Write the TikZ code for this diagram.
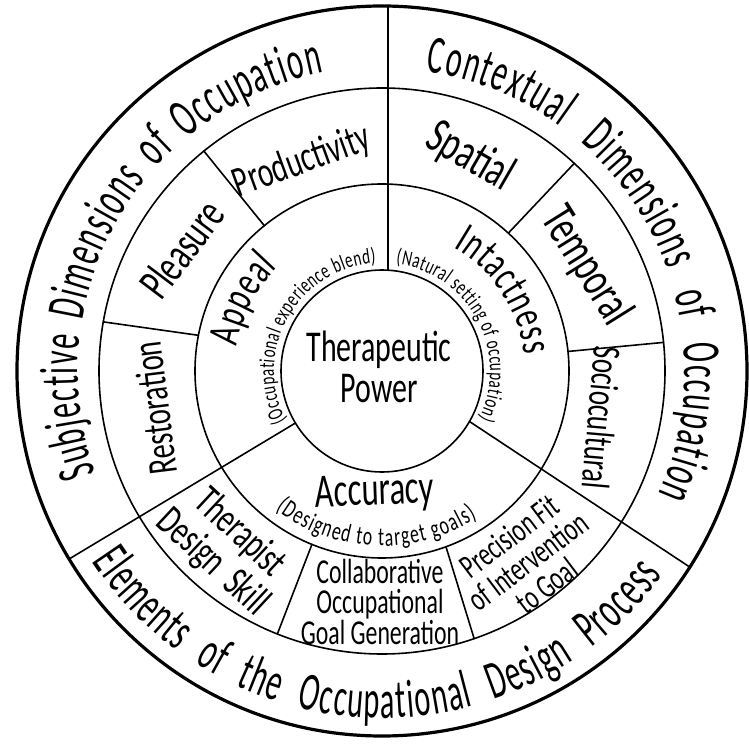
\documentclass[tikz,border=0pt]{standalone}
\usepackage{fontspec}
\setmainfont{Carlito}
\newfontfamily\handO{Carlito}[FakeStretch=0.56]
\newfontfamily\hand{Carlito}[FakeStretch=0.68]
\usetikzlibrary{decorations.text}
\tikzset{
  ring/.style={line width=1.6pt, line cap=round},
  rim/.style={line width=3.2pt},
  lbl/.style={inner sep=0pt, align=center},
}
\begin{document}
\begin{tikzpicture}[x=1pt,y=1pt]
\useasboundingbox (-382,-378) rectangle (367,371);
\fill[white] (-382,-378) rectangle (367,371);
% circles
\draw[ring] (0,0) circle[radius=101pt];
\draw[ring] (0,0) circle[radius=187pt];
\draw[ring] (0,0) circle[radius=283pt];
\draw[rim] (0,0) circle[radius=365pt];
% main dividers
\draw[ring] (6,100.8) -- (6,365);
\draw[ring] (211:101pt) -- (211:365pt);
\draw[ring] (-30:101pt) -- (-32.5:365pt);
% ring 3 dividers
\draw[ring] (129:187pt) -- (129:283pt);
\draw[ring] (169:187pt) -- (170:283pt);
\draw[ring] (248:187pt) -- (248.3:283pt);
\draw[ring] (290:187pt) -- (289:283pt);
\draw[ring] (6:187pt) -- (5.8:283pt);
\draw[ring] (47.5:187pt) -- (47.2:283pt);
% outer ring texts
\path[decorate, decoration={text along path, text align={fit to path stretching spaces},
  text={|\handO\fontsize{54}{54}\selectfont\kern1.5pt|Subjective Dimensions of Occupation}}]
  (200:304pt) arc[start angle=200, end angle=101, radius=304pt];
\path[decorate, decoration={text along path, text align={fit to path stretching spaces},
  text={|\handO\fontsize{54}{54}\selectfont\kern1.5pt|Contextual Dimensions of Occupation}}]
  (82:303pt) arc[start angle=82, end angle=-24, radius=303pt];
\path[decorate, decoration={text along path, text align={fit to path stretching spaces},
  text={|\handO\fontsize{54}{54}\selectfont\kern1.5pt|Elements of the Occupational Design Process}}]
  (213:347pt) arc[start angle=213, end angle=324, radius=347pt];
% ring 3 labels
\node[lbl, font={\hand\fontsize{43}{43}\selectfont}, rotate=20] (prod) at (-80,209) {Productivity};
\node[lbl, font={\hand\fontsize{46}{46}\selectfont}, rotate=53] (plea) at (-200,122) {Pleasure};
\node[lbl, font={\hand\fontsize{42}{42}\selectfont}, rotate=97] (rest) at (-227,-37) {Restoration};
\node[lbl, font={\hand\fontsize{42}{40}\selectfont}, rotate=-43] (ther) at (-156,-177) {Therapist\\Design\ \ Skill};
\node[lbl, font={\hand\fontsize{35}{29.5}\selectfont}] (coll) at (-2,-231) {Collaborative\\Occupational\\Goal Generation};
\node[lbl, font={\hand\fontsize{34}{31}\selectfont}, rotate=37] (prec) at (146,-190) {Precision Fit\\of Intervention\\to Goal};
\node[lbl, font={\hand\fontsize{40}{40}\selectfont}, rotate=-95] (soci) at (220,-47) {Sociocultural};
\node[lbl, font={\hand\fontsize{50}{50}\selectfont}, rotate=-58] (temp) at (204,105) {Temporal};
\node[lbl, font={\hand\fontsize{50}{50}\selectfont}, rotate=-30] (spat) at (88,214) {Spatial};
% ring 2 labels
\path[decorate, decoration={text along path, text align=center,
  text={|\hand\fontsize{44}{44}\selectfont\kern1pt|Appeal}}]
  (175:147pt) arc[start angle=175, end angle=131, radius=147pt];
\path[decorate, decoration={text along path, text align=center,
  text={|\hand\fontsize{44}{44}\selectfont\kern1pt|Intactness}}]
  (73:143pt) arc[start angle=73, end angle=-6, radius=143pt];
\node[lbl, font={\hand\fontsize{48}{48}\selectfont}, anchor=base, rotate=2] (accu) at (-7,-134) {Accuracy};
\path[decorate, decoration={text along path, text align=center,
  text={|\hand\fontsize{22}{22}\selectfont\kern0.6pt|(Occupational experience blend)}}]
  (215:108pt) arc[start angle=215, end angle=86, radius=108pt];
\path[decorate, decoration={text along path, text align=center,
  text={|\hand\fontsize{22}{22}\selectfont\kern0.6pt|(Natural setting of occupation)}}]
  (93:108pt) arc[start angle=93, end angle=-36, radius=108pt];
\path[decorate, decoration={text along path, text align=center,
  text={|\hand\fontsize{26}{26}\selectfont\kern1.2pt|(Designed to target goals)}}]
  (225:175pt) arc[start angle=225, end angle=310, radius=175pt];
% centre
\node[lbl, font={\hand\fontsize{44}{44}\selectfont}, anchor=base] (thera) at (-3,9) {Therapeutic};
\node[lbl, font={\hand\fontsize{44}{44}\selectfont}, anchor=base] (power) at (-3,-32) {Power};
\end{tikzpicture}
\end{document}
